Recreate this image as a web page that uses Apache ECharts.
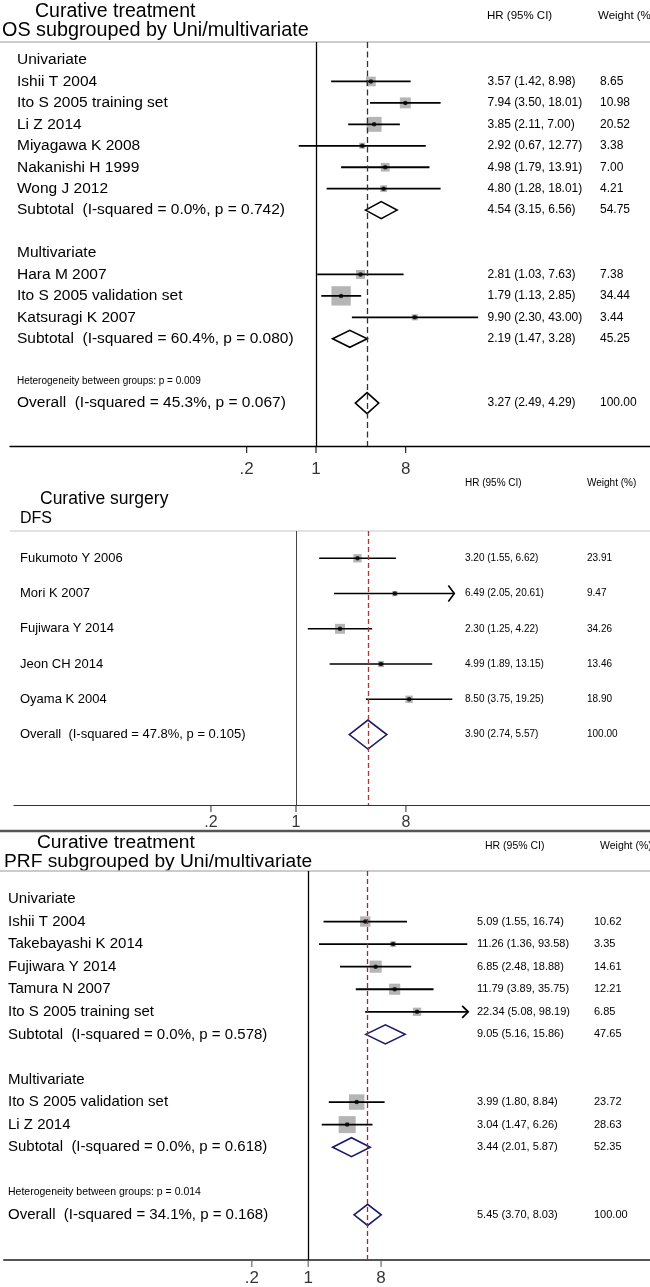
<!DOCTYPE html>
<html><head><meta charset="utf-8">
<script src="https://cdn.jsdelivr.net/npm/echarts@6/dist/echarts.min.js"></script>
<style>html,body{margin:0;padding:0;background:#fff}#c{width:650px;height:1287px}</style>
</head><body><div id="c"></div>
<script>
// ================= DATA =================
const tickLabels = ['.2', '1', '8'];
const tickValues = [0.2, 1, 8];

// Panel 1: Curative treatment, OS subgrouped by Uni/multivariate
const osLabels = ['Univariate', 'Ishii T 2004', 'Ito S 2005 training set', 'Li Z 2014', 'Miyagawa K 2008',
  'Nakanishi H 1999', 'Wong J 2012', 'Subtotal  (I-squared = 0.0%, p = 0.742)', '', 'Multivariate',
  'Hara M 2007', 'Ito S 2005 validation set', 'Katsuragi K 2007', 'Subtotal  (I-squared = 60.4%, p = 0.080)', '',
  'Heterogeneity between groups: p = 0.009', 'Overall  (I-squared = 45.3%, p = 0.067)'];
const osKind = ['head', 'study', 'study', 'study', 'study', 'study', 'study', 'sub', 'blank', 'head',
  'study', 'study', 'study', 'sub', 'blank', 'het', 'overall'];
const osHR = [null, 3.57, 7.94, 3.85, 2.92, 4.98, 4.80, 4.54, null, null, 2.81, 1.79, 9.90, 2.19, null, null, 3.27];
const osLo = [null, 1.42, 3.50, 2.11, 0.67, 1.79, 1.28, 3.15, null, null, 1.03, 1.13, 2.30, 1.47, null, null, 2.49];
const osHi = [null, 8.98, 18.01, 7.00, 12.77, 13.91, 18.01, 6.56, null, null, 7.63, 2.85, 43.00, 3.28, null, null, 4.29];
const osWeight = [null, 8.65, 10.98, 20.52, 3.38, 7.00, 4.21, 54.75, null, null, 7.38, 34.44, 3.44, 45.25, null, null, 100.00];

// Panel 2: Curative surgery, DFS
const dfsLabels = ['Fukumoto Y 2006', 'Mori K 2007', 'Fujiwara Y 2014', 'Jeon CH 2014', 'Oyama K 2004',
  'Overall  (I-squared = 47.8%, p = 0.105)'];
const dfsKind = ['study', 'study', 'study', 'study', 'study', 'overall'];
const dfsHR = [3.20, 6.49, 2.30, 4.99, 8.50, 3.90];
const dfsLo = [1.55, 2.05, 1.25, 1.89, 3.75, 2.74];
const dfsHi = [6.62, 20.61, 4.22, 13.15, 19.25, 5.57];
const dfsWeight = [23.91, 9.47, 34.26, 13.46, 18.90, 100.00];

// Panel 3: Curative treatment, PRF subgrouped by Uni/multivariate
const prfLabels = ['Univariate', 'Ishii T 2004', 'Takebayashi K 2014', 'Fujiwara Y 2014', 'Tamura N 2007',
  'Ito S 2005 training set', 'Subtotal  (I-squared = 0.0%, p = 0.578)', '', 'Multivariate',
  'Ito S 2005 validation set', 'Li Z 2014', 'Subtotal  (I-squared = 0.0%, p = 0.618)', '',
  'Heterogeneity between groups: p = 0.014', 'Overall  (I-squared = 34.1%, p = 0.168)'];
const prfKind = ['head', 'study', 'study', 'study', 'study', 'study', 'sub', 'blank', 'head',
  'study', 'study', 'sub', 'blank', 'het', 'overall'];
const prfHR = [null, 5.09, 11.26, 6.85, 11.79, 22.34, 9.05, null, null, 3.99, 3.04, 3.44, null, null, 5.45];
const prfLo = [null, 1.55, 1.36, 2.48, 3.89, 5.08, 5.16, null, null, 1.80, 1.47, 2.01, null, null, 3.70];
const prfHi = [null, 16.74, 93.58, 18.88, 35.75, 98.19, 15.86, null, null, 8.84, 6.26, 5.87, null, null, 8.03];
const prfWeight = [null, 10.62, 3.35, 14.61, 12.21, 6.85, 47.65, null, null, 23.72, 28.63, 52.35, null, null, 100.00];

// ================= LAYOUT / STYLE =================
const FONT = "'Liberation Sans', Arial, Helvetica, sans-serif";
const W = 650;
const panels = [
  { labels: osLabels, kind: osKind, hr: osHR, lo: osLo, hi: osHi, w: osWeight,
    gridLeft: 10, top: 42, bottom: 446, onePx: 316, pxPerDec: 99.25, rowMin: -0.84, rowMax: 18,
    labelX: 17, hrX: 487.5, wX: 600, labelFont: 15.5, numFont: 12, hetFont: 10, tickFont: 17, tickDist: 8,
    sqK: 3.3, dot: 4.5, ciWidth: 1.8, subH: 8.5, ovH: 10.5, diamondColor: '#000', refColor: '#000', refWidth: 1.3,
    dashColor: '#333', dash: [6, 3.5], axisColor: '#000', axisWidth: 1.3, clipMax: 1e6, arrowBack: 6, arrowHalf: 7 },
  { labels: dfsLabels, kind: dfsKind, hr: dfsHR, lo: dfsLo, hi: dfsHi, w: dfsWeight,
    gridLeft: 14, top: 531, bottom: 805, onePx: 296, pxPerDec: 121.7, rowMin: -0.775, rowMax: 7,
    labelX: 20, hrX: 465, wX: 587, labelFont: 13, numFont: 10, hetFont: 10, tickFont: 16, tickDist: 3,
    sqK: 1.7, dot: 4.5, ciWidth: 1.6, subH: 14.5, ovH: 14.5, diamondColor: '#1a1a66', refColor: '#444', refWidth: 1,
    dashColor: '#a33a3a', dash: [5, 3], axisColor: '#333', axisWidth: 1.2, clipMax: 20, arrowBack: 6, arrowHalf: 8 },
  { labels: prfLabels, kind: prfKind, hr: prfHR, lo: prfLo, hi: prfHi, w: prfWeight,
    gridLeft: 4, top: 871, bottom: 1260, onePx: 308.2, pxPerDec: 80.7, rowMin: -1.24, rowMax: 16,
    labelX: 8, hrX: 477, wX: 594, labelFont: 15, numFont: 11, hetFont: 10.5, tickFont: 17, tickDist: 3,
    sqK: 3.18, dot: 4.5, ciWidth: 1.8, subH: 9.5, ovH: 10.5, diamondColor: '#1a1a66', refColor: '#000', refWidth: 1.3,
    dashColor: '#a82828', dash: [5, 3], axisColor: '#555', axisWidth: 2, clipMax: 96, arrowBack: 6, arrowHalf: 6 }
];

const grids = [], xAxes = [], yAxes = [], series = [];

panels.forEach((p, pi) => {
  const n = p.labels.length;
  const rows = [...Array(n).keys()];
  const studyRows = rows.filter(i => p.kind[i] === 'study');
  const poolRows = rows.filter(i => p.kind[i] === 'sub' || p.kind[i] === 'overall');
  const overallRow = rows.find(i => p.kind[i] === 'overall');
  const numRows = rows.filter(i => p.hr[i] != null);

  grids.push({ left: p.gridLeft, top: p.top, width: W - p.gridLeft, height: p.bottom - p.top,
    containLabel: false, outerBoundsMode: 'none', show: false });

  xAxes.push({ gridIndex: pi, type: 'log', logBase: 10,
    min: Math.pow(10, (p.gridLeft - p.onePx) / p.pxPerDec),
    max: Math.pow(10, (W - p.onePx) / p.pxPerDec),
    axisLine: { show: true, onZero: false, lineStyle: { color: p.axisColor, width: p.axisWidth } },
    axisTick: { show: false }, axisLabel: { show: false }, splitLine: { show: false }, minorTick: { show: false } });

  const base = yAxes.length;
  yAxes.push({ gridIndex: pi, type: 'value', inverse: true, min: p.rowMin, max: p.rowMax, show: false, splitLine: { show: false } });
  const colAxis = (x, idx, fmt, size) => ({
    gridIndex: pi, type: 'value', inverse: true, min: p.rowMin, max: p.rowMax, position: 'left',
    offset: p.gridLeft - x, axisLine: { show: false }, axisTick: { show: false }, splitLine: { show: false },
    axisLabel: { show: true, inside: true, margin: 0, customValues: idx, formatter: fmt,
      color: '#000', fontFamily: FONT, fontSize: size, align: 'left',
      rich: { het: { fontSize: p.hetFont, fontFamily: FONT, color: '#000' } } }
  });
  const labelRows = rows.filter(i => p.labels[i] !== '');
  yAxes.push(colAxis(p.labelX, labelRows, v => {
    const i = Math.round(v); const t = p.labels[i] || '';
    return p.kind[i] === 'het' ? '{het|' + t + '}' : t;
  }, p.labelFont));
  yAxes.push(colAxis(p.hrX, numRows, v => {
    const i = Math.round(v);
    return p.hr[i].toFixed(2) + ' (' + p.lo[i].toFixed(2) + ', ' + p.hi[i].toFixed(2) + ')';
  }, p.numFont));
  yAxes.push(colAxis(p.wX, numRows, v => p.w[Math.round(v)].toFixed(2), p.numFont));

  const common = { xAxisIndex: pi, yAxisIndex: base, silent: true, animation: false, clip: false };

  // reference lines (null line at 1 and pooled estimate)
  series.push(Object.assign({}, common, { type: 'scatter', data: [], z: 1,
    markLine: { silent: true, symbol: ['none', 'none'], label: { show: false }, animation: false,
      data: [
        { xAxis: 1, lineStyle: { color: p.refColor, width: p.refWidth, type: 'solid' } },
        { xAxis: p.hr[overallRow], lineStyle: { color: p.dashColor, width: 1.3, type: p.dash } }
      ] } }));

  // weight squares
  series.push(Object.assign({}, common, { type: 'scatter', z: 2, symbol: 'rect',
    data: studyRows.map(i => [p.hr[i], i, p.w[i]]),
    symbolSize: v => p.sqK * Math.sqrt(v[2]), itemStyle: { color: '#b5b5b5', opacity: 1 } }));

  // CI lines
  series.push(Object.assign({}, common, { type: 'custom', z: 3,
    data: studyRows.map(i => [p.lo[i], p.hi[i], i]), encode: { x: [0, 1], y: 2 },
    renderItem: (params, api) => {
      const lo = api.value(0), hi = api.value(1), r = api.value(2);
      const cut = hi > p.clipMax;
      const a = api.coord([lo, r]), b = api.coord([cut ? p.clipMax : hi, r]);
      const ch = [{ type: 'line', shape: { x1: a[0], y1: a[1], x2: b[0], y2: b[1] }, style: { stroke: '#000', lineWidth: p.ciWidth } }];
      if (cut) ch.push({ type: 'polyline', shape: { points: [[b[0] - p.arrowBack, b[1] - p.arrowHalf], [b[0], b[1]], [b[0] - p.arrowBack, b[1] + p.arrowHalf]] },
        style: { stroke: '#000', lineWidth: p.ciWidth, fill: null } });
      return { type: 'group', children: ch };
    } }));

  // point estimates
  series.push(Object.assign({}, common, { type: 'scatter', z: 4, symbol: 'circle', symbolSize: p.dot,
    data: studyRows.map(i => [p.hr[i], i]), itemStyle: { color: '#000' } }));

  // pooled diamonds
  series.push(Object.assign({}, common, { type: 'custom', z: 3,
    data: poolRows.map(i => [p.lo[i], p.hr[i], p.hi[i], i, p.kind[i] === 'overall' ? 1 : 0]),
    encode: { x: [0, 1, 2], y: 3 },
    renderItem: (params, api) => {
      const r = api.value(3);
      const h = api.value(4) ? p.ovH : p.subH;
      const a = api.coord([api.value(0), r]), m = api.coord([api.value(1), r]), b = api.coord([api.value(2), r]);
      return { type: 'polygon', shape: { points: [[a[0], a[1]], [m[0], m[1] - h], [b[0], b[1]], [m[0], m[1] + h]] },
        style: { stroke: p.diamondColor, lineWidth: 1.6, fill: 'rgba(255,255,255,0)' } };
    } }));

  // x-axis ticks and tick labels
  series.push(Object.assign({}, common, { type: 'scatter', z: 5, symbol: 'rect', symbolSize: [1.3, 7], symbolOffset: [0, 3.5],
    data: tickValues.map(v => [v, p.rowMax]), itemStyle: { color: p.axisColor },
    label: { show: true, position: 'bottom', distance: p.tickDist, color: '#000', fontFamily: FONT, fontSize: p.tickFont,
      formatter: prm => tickLabels[prm.dataIndex] } }));
});

const txt = (x, y, text, size) => ({ type: 'text', x: x, y: y, silent: true,
  style: { text: text, fontSize: size, fontFamily: FONT, fill: '#000', align: 'left', verticalAlign: 'middle' } });
const hline = (x1, x2, y, color, w) => ({ type: 'line', silent: true, shape: { x1: x1, y1: y, x2: x2, y2: y }, style: { stroke: color, lineWidth: w } });

const graphic = [
  txt(35, 12, 'Curative treatment', 19.5),
  txt(2, 31, 'OS subgrouped by Uni/multivariate', 19.8),
  txt(487, 16, 'HR (95% CI)', 11.5),
  txt(598, 16, 'Weight (%)', 11.5),
  hline(0, 650, 42, '#bbbbbb', 1.5),

  txt(40, 499, 'Curative surgery', 17.5),
  txt(20, 518.5, 'DFS', 16),
  txt(465, 483.5, 'HR (95% CI)', 10),
  txt(587, 483.5, 'Weight (%)', 10),
  hline(10, 650, 531, '#c8c8c8', 1.2),

  hline(0, 650, 831, '#555555', 2.5),

  txt(37, 843, 'Curative treatment', 19.2),
  txt(4, 862, 'PRF subgrouped by Uni/multivariate', 19.2),
  txt(485, 846, 'HR (95% CI)', 10.5),
  txt(600, 846, 'Weight (%)', 10.5),
  hline(0, 650, 871, '#bbbbbb', 1.5)
];

const chart = echarts.init(document.getElementById('c'), null, { renderer: 'canvas' });
chart.setOption({
  animation: false,
  backgroundColor: '#fff',
  grid: grids, xAxis: xAxes, yAxis: yAxes, series: series, graphic: graphic
});
</script></body></html>
